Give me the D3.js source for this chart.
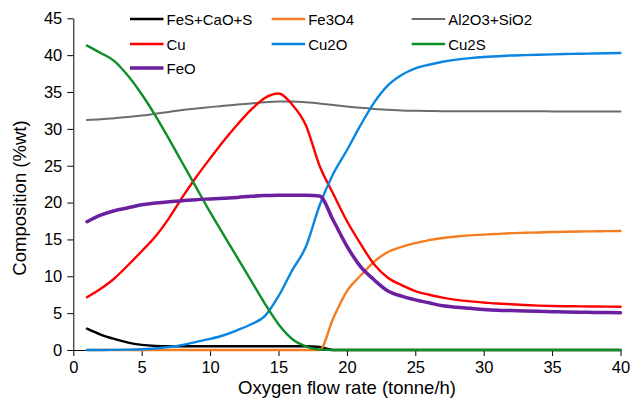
<!DOCTYPE html>
<html><head><meta charset="utf-8">
<script src="https://cdn.jsdelivr.net/npm/d3@7"></script>
<style>
body{margin:0;background:#fff;}
svg{display:block;font-family:"Liberation Sans",Arial,sans-serif;}
</style></head>
<body><svg id="c" width="632" height="403"></svg>
<script>
const xValues = d3.range(1, 41);
const seriesNames = ["FeS+CaO+S","Fe3O4","Al2O3+SiO2","Cu","Cu2O","Cu2S","FeO"];
const seriesColors = ["#000000","#F57C1F","#6B6B6B","#FF0000","#0A86E0","#0E8F25","#6A20A0"];
const feS = [2.9,2.1,1.5,1.0,0.7,0.55,0.5,0.5,0.5,0.5,0.5,0.5,0.5,0.5,0.5,0.5,0.5,0.4,0,0,0,0,0,0,0,0,0,0,0,0,0,0,0,0,0,0,0,0,0,0];
const fe3o4 = [0,0,0,0,0,0,0,0,0,0,0,0,0,0,0,0,0,0,4.3,8.0,10.1,12.0,13.3,14.0,14.5,14.9,15.2,15.4,15.55,15.65,15.75,15.85,15.9,15.95,16.0,16.05,16.08,16.1,16.13,16.15];
const al2o3 = [31.2,31.3,31.45,31.6,31.8,32.05,32.3,32.55,32.75,32.95,33.15,33.3,33.45,33.6,33.7,33.7,33.6,33.45,33.25,33.05,32.85,32.7,32.6,32.5,32.45,32.42,32.4,32.4,32.4,32.4,32.4,32.4,32.38,32.38,32.37,32.37,32.36,32.36,32.35,32.35];
const cu = [7.15,8.3,9.7,11.5,13.4,15.4,17.9,20.8,23.5,26.0,28.4,30.6,32.6,34.2,34.8,33.3,30.5,25.0,21.2,17.5,14.4,11.6,9.8,8.8,8.0,7.5,7.1,6.8,6.6,6.45,6.3,6.2,6.1,6.02,5.97,5.94,5.92,5.9,5.88,5.87];
const cu2o = [0,0,0.02,0.05,0.1,0.2,0.4,0.7,1.1,1.5,2.0,2.7,3.5,4.6,7.3,10.8,14.0,19.6,23.9,27.1,30.5,33.6,35.9,37.3,38.2,38.7,39.1,39.4,39.6,39.75,39.85,39.95,40.0,40.05,40.1,40.15,40.2,40.22,40.25,40.3];
const cu2s = [41.3,40.3,39.2,37.2,34.7,31.8,28.6,25.3,22.0,18.7,15.6,12.5,9.4,6.3,3.5,1.5,0.5,0.05,0,0,0,0,0,0,0,0,0,0,0,0,0,0,0,0,0,0,0,0,0,0];
const feo = [17.4,18.3,18.9,19.3,19.7,19.95,20.1,20.25,20.4,20.5,20.6,20.7,20.85,20.95,21.0,21.0,21.0,20.9,17.6,14.1,11.3,9.5,8.0,7.3,6.8,6.4,6.0,5.8,5.65,5.5,5.4,5.35,5.3,5.25,5.2,5.15,5.12,5.1,5.08,5.05];
const seriesValues = [feS, fe3o4, al2o3, cu, cu2o, cu2s, feo];
const xTicks = [0,5,10,15,20,25,30,35,40];
const yTicks = [0,5,10,15,20,25,30,35,40,45];

const svg = d3.select("#c");
const x = d3.scaleLinear().domain([0,40]).range([73.3,620.5]);
const y = d3.scaleLinear().domain([0,45]).range([350,18.3]);

const xAxis = svg.append("g").attr("transform","translate(0,350)")
  .call(d3.axisBottom(x).tickValues(xTicks).tickSize(6).tickPadding(5).tickSizeOuter(0));
const yAxis = svg.append("g").attr("transform","translate(73.3,0)")
  .call(d3.axisLeft(y).tickValues(yTicks).tickSize(6).tickPadding(5).tickSizeOuter(0));
[xAxis,yAxis].forEach(g=>{
  g.selectAll("path,line").attr("stroke","#000").attr("stroke-width",1);
  g.selectAll("text").attr("font-size",16.5).attr("fill","#000").attr("font-family","Liberation Sans, Arial, sans-serif");
});

const line = d3.line().x((d,i)=>x(xValues[i])).y(d=>y(d)).curve(d3.curveMonotoneX);
seriesValues.forEach((vals,k)=>{
  svg.append("path").attr("d",line(vals)).attr("fill","none")
    .attr("stroke",seriesColors[k]).attr("stroke-width", k===6?3.5:(k===2?2:2.4))
    .attr("stroke-linejoin","round").attr("stroke-linecap","round");
});

// legend
const colX = [130,271.7,411.7];
const rowY = [19,44,68];
seriesNames.forEach((n,k)=>{
  const cx = colX[k%3], cy = rowY[Math.floor(k/3)];
  svg.append("line").attr("x1",cx).attr("x2",cx+33.5).attr("y1",cy).attr("y2",cy)
    .attr("stroke",seriesColors[k]).attr("stroke-width", k===6?3.5:(k===2?2:2.4));
  svg.append("text").attr("x",cx+36.5).attr("y",cy+5.5).attr("font-size",15).attr("fill","#000").text(n);
});

svg.append("text").attr("x",347).attr("y",394).attr("text-anchor","middle").attr("font-size",18.5).attr("fill","#000")
  .text("Oxygen flow rate (tonne/h)");
svg.append("text").attr("transform","translate(26,198) rotate(-90)").attr("text-anchor","middle").attr("font-size",18.5).attr("fill","#000")
  .text("Composition (%wt)");
</script></body></html>
